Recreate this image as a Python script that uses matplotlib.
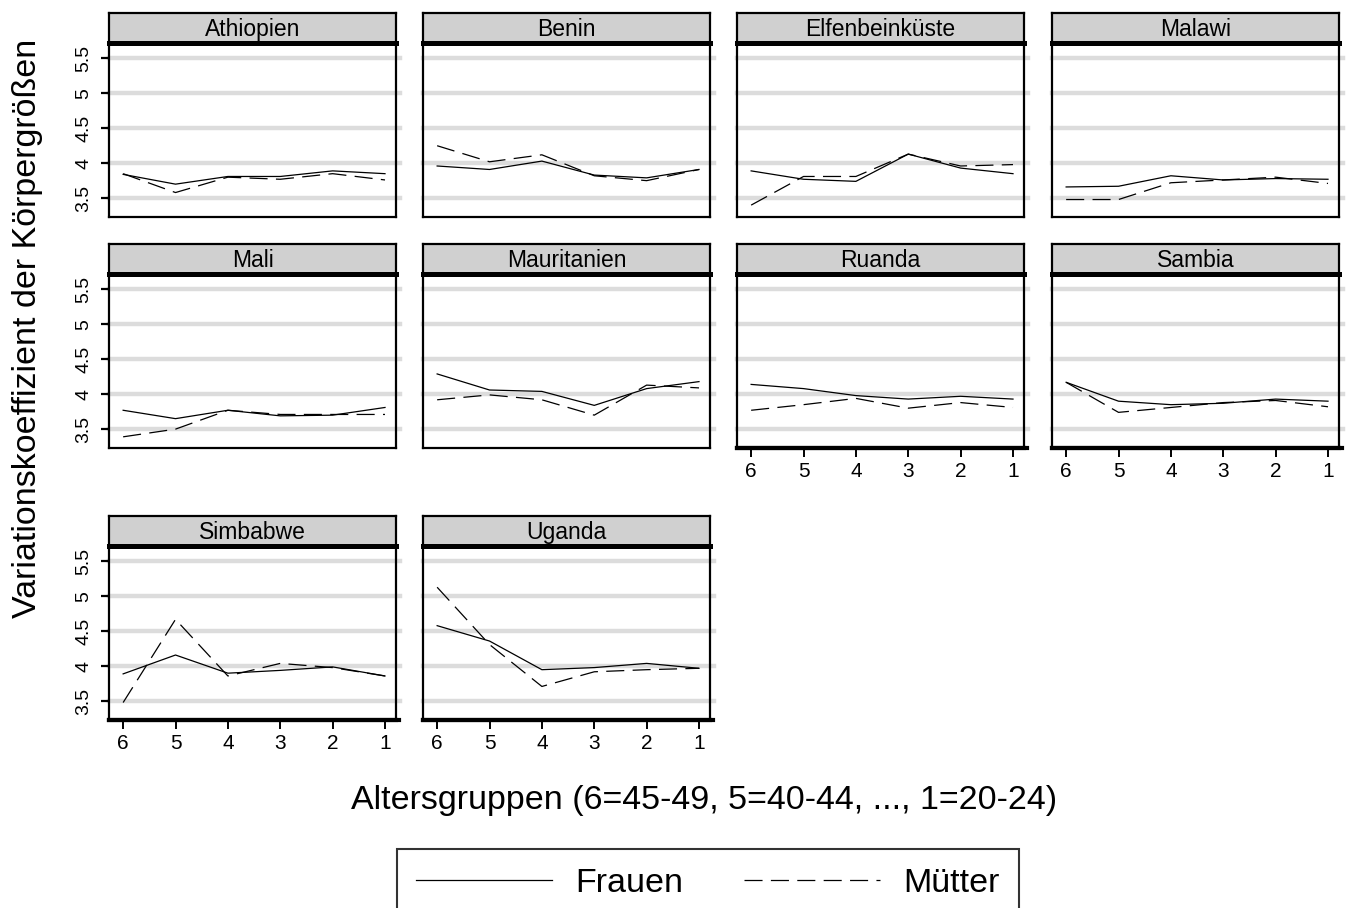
import numpy as np
import matplotlib
matplotlib.use("Agg")
import matplotlib.pyplot as plt

plt.rcParams['font.family'] = ['Liberation Sans', 'DejaVu Sans']
plt.rcParams['lines.scale_dashes'] = False

# ---------------------------------------------------------------- data
ages = [6, 5, 4, 3, 2, 1]
countries = ["Athiopien", "Benin", "Elfenbeinküste", "Malawi", "Mali",
             "Mauritanien", "Ruanda", "Sambia", "Simbabwe", "Uganda"]

# coefficient of variation of body height, women (solid)
frauen = [
    [3.84, 3.70, 3.81, 3.81, 3.89, 3.85],  # Athiopien
    [3.96, 3.91, 4.03, 3.83, 3.79, 3.91],  # Benin
    [3.89, 3.77, 3.74, 4.13, 3.93, 3.85],  # Elfenbeinkueste
    [3.66, 3.67, 3.82, 3.76, 3.78, 3.77],  # Malawi
    [3.77, 3.65, 3.77, 3.69, 3.70, 3.81],  # Mali
    [4.29, 4.06, 4.04, 3.84, 4.08, 4.18],  # Mauritanien
    [4.14, 4.08, 3.98, 3.93, 3.97, 3.93],  # Ruanda
    [4.17, 3.90, 3.85, 3.87, 3.93, 3.90],  # Sambia
    [3.89, 4.16, 3.90, 3.94, 3.99, 3.86],  # Simbabwe
    [4.58, 4.36, 3.95, 3.98, 4.04, 3.97],  # Uganda
]
# mothers (dashed)
muetter = [
    [3.85, 3.58, 3.80, 3.77, 3.85, 3.76],
    [4.25, 4.02, 4.12, 3.82, 3.75, 3.91],
    [3.40, 3.81, 3.81, 4.13, 3.96, 3.98],
    [3.48, 3.48, 3.72, 3.76, 3.80, 3.71],
    [3.39, 3.50, 3.77, 3.71, 3.71, 3.71],
    [3.92, 3.99, 3.92, 3.70, 4.13, 4.09],
    [3.77, 3.85, 3.94, 3.80, 3.88, 3.81],
    [4.17, 3.74, 3.81, 3.88, 3.91, 3.82],
    [3.48, 4.67, 3.86, 4.04, 3.98, 3.86],
    [5.13, 4.31, 3.71, 3.92, 3.95, 3.97],
]
yticks = [3.5, 4, 4.5, 5, 5.5]
ytick_labels = ["3.5", "4", "4.5", "5", "5.5"]

# ---------------------------------------------------------------- layout (pixels)
W, H = 1346, 908
fig = plt.figure(figsize=(W / 100, H / 100), dpi=100)

col_left = [109, 423, 737, 1052]
row_top = [43, 274, 546]     # top of plotting region
pw, ph = 287, 174
strip_h = 30


def rect(left, top, w, h):
    return [left / W, 1 - (top + h) / H, w / W, h / H]


handles = None
for i, name in enumerate(countries):
    r, c = divmod(i, 4)
    left, top = col_left[c], row_top[r]

    # strip with the panel title
    sax = fig.add_axes(rect(left, top - strip_h, pw, strip_h))
    sax.set_facecolor('#d0d0d0')
    sax.set_xticks([])
    sax.set_yticks([])
    for s in sax.spines.values():
        s.set_linewidth(1.6)
    sax.text(0.5, 0.45, name, ha='center', va='center', fontsize=16.5,
             transform=sax.transAxes)

    ax = fig.add_axes(rect(left, top, pw, ph))
    ax.set_xlim(6.27, 0.79)
    ax.set_ylim(3.23, 5.72)
    for v in yticks:
        ax.axhline(v, xmin=0, xmax=1.015, color='#dcdcdc', lw=3.2,
                   zorder=0.5, clip_on=False)

    l1, = ax.plot(ages, frauen[i], color='black', lw=0.9, label='Frauen', zorder=3)
    l2, = ax.plot(ages, muetter[i], color='black', lw=0.9, label='Mütter',
                  linestyle=(0, (13, 6)), zorder=3)
    handles = [l1, l2]

    ax.spines['top'].set_linewidth(3.6)
    ax.spines['left'].set_linewidth(1.6)
    ax.spines['right'].set_linewidth(1.6)
    ax.spines['bottom'].set_linewidth(1.6)

    # x axis only on panels with nothing below
    if i + 4 >= len(countries):
        ax.set_xticks(ages)
        ax.set_xticklabels([str(a) for a in ages], fontsize=15)
        ax.tick_params(axis='x', length=6.5, width=1.4, pad=3.5)
        ax.spines['bottom'].set_linewidth(3)
        ax.plot([0, 1.012], [0, 0], transform=ax.transAxes, color='black',
                lw=3, clip_on=False, zorder=4)
    else:
        ax.set_xticks([])

    if c == 0:
        ax.set_yticks(yticks)
        ax.set_yticklabels(ytick_labels, fontsize=14, rotation=90, va='center')
        ax.tick_params(axis='y', length=6, width=1.6, pad=6)
    else:
        ax.set_yticks([])

fig.text(28 / W, 1 - 328 / H, "Variationskoeffizient der Körpergrößen",
         rotation=90, ha='center', va='center', fontsize=24.5)
fig.text(704 / W, 1 - 800 / H, "Altersgruppen (6=45-49, 5=40-44, ..., 1=20-24)",
         ha='center', va='center', fontsize=24.5)

leg = fig.legend(handles, ['Frauen', 'Mütter'], loc='upper left',
                 bbox_to_anchor=(397 / W, 1 - 849 / H), ncol=2, fontsize=24.5,
                 frameon=True, fancybox=False, handlelength=4.0,
                 handletextpad=0.68, columnspacing=1.8, borderpad=0.55,
                 borderaxespad=0)
leg.get_frame().set_edgecolor('black')
leg.get_frame().set_linewidth(1.5)

fig.savefig("out.png", dpi=100)
